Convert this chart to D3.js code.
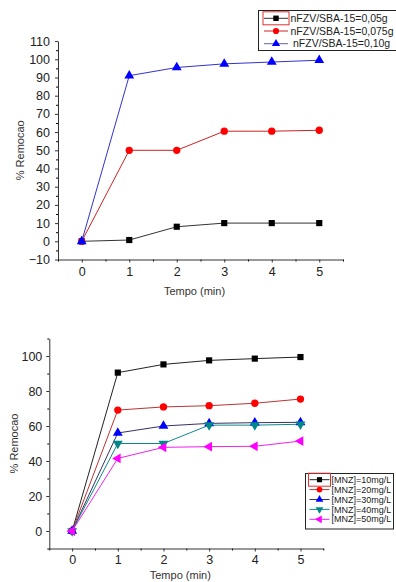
<!DOCTYPE html>
<html>
<head>
<meta charset="utf-8">
<script src="https://cdn.jsdelivr.net/npm/d3@7"></script>
<style>
  body { margin: 0; background: #fff; }
  svg { display: block; font-family: "Liberation Sans", Arial, sans-serif; }
</style>
</head>
<body>
<div id="chart"></div>
<script>
// time points (min)
var tempo = [0, 1, 2, 3, 4, 5];

// chart 1: mass of nFZV/SBA-15
var massLabels = ["nFZV/SBA-15=0,05g", "nFZV/SBA-15=0,075g", "nFZV/SBA-15=0,10g"];
var rem005 = [0, 0.7, 8, 10, 10, 10];
var rem0075 = [0, 50, 50, 60.5, 60.5, 61];
var rem010 = [0, 91, 95.5, 97.5, 98.5, 99.5];

// chart 2: MNZ concentration
var concLabels = ["[MNZ]=10mg/L", "[MNZ]=20mg/L", "[MNZ]=30mg/L", "[MNZ]=40mg/L", "[MNZ]=50mg/L"];
var rem10 = [0, 90.5, 95.2, 97.5, 98.5, 99.4];
var rem20 = [0, 69.1, 70.9, 71.6, 73, 75.4];
var rem30 = [0, 56, 60, 61.5, 61.9, 62.1];
var rem40 = [0, 50, 50, 60.5, 60.5, 61];
var rem50 = [0, 41.5, 47.8, 48.2, 48.4, 51.4];

var xTicks = [0, 1, 2, 3, 4, 5];
var xMinor = [-0.5, 0.5, 1.5, 2.5, 3.5, 4.5, 5.5];
var yTicks1 = [-10, 0, 10, 20, 30, 40, 50, 60, 70, 80, 90, 100, 110];
var yMinor1 = [-5, 5, 15, 25, 35, 45, 55, 65, 75, 85, 95, 105];
var yTicks2 = [0, 20, 40, 60, 80, 100];
var yMinor2 = [-10, 10, 30, 50, 70, 90, 110];

var svg = d3.select("#chart")
  .append("svg")
    .attr("width", 396)
    .attr("height", 582);

var shapes = {
  square: d3.symbolSquare,
  circle: d3.symbolCircle,
  triangle: d3.symbolTriangle
};
function marker(shape, size) {
  return d3.symbol().type(shapes[shape]).size(size)();
}

function drawChart(cfg) {
  var x = d3.scaleLinear().domain([-0.5, 5.5]).range([cfg.left, cfg.right]);
  var y = d3.scaleLinear().domain([-10, 110]).range([cfg.bottom, cfg.top]);
  var g = svg.append("g");

  // minor ticks
  g.append("g")
    .attr("transform", "translate(0," + cfg.bottom + ")")
    .call(d3.axisBottom(x).tickValues(xMinor).tickSize(2).tickFormat(""))
    .call(function (a) { a.select(".domain").remove(); });
  g.append("g")
    .attr("transform", "translate(" + cfg.left + ",0)")
    .call(d3.axisLeft(y).tickValues(cfg.yMinor).tickSize(2).tickFormat(""))
    .call(function (a) { a.select(".domain").remove(); });

  var xa = g.append("g")
    .attr("transform", "translate(0," + cfg.bottom + ")")
    .call(d3.axisBottom(x).tickValues(xTicks).tickFormat(d3.format("d"))
      .tickSize(3).tickSizeOuter(0).tickPadding(cfg.xPad));
  var ya = g.append("g")
    .attr("transform", "translate(" + cfg.left + ",0)")
    .call(d3.axisLeft(y).tickValues(cfg.yTicks).tickFormat(d3.format("d"))
      .tickSize(3).tickSizeOuter(0).tickPadding(cfg.yPad));

  [xa, ya].forEach(function (a) {
    a.selectAll("path, line").attr("stroke", "#333");
    a.selectAll("text")
      .attr("fill", "#222")
      .style("font-size", "12.5px")
      .style("font-family", "Liberation Sans, Arial, sans-serif");
  });

  g.append("text")
    .attr("x", (cfg.left + cfg.right) / 2 - 6)
    .attr("y", cfg.xTitleY)
    .attr("text-anchor", "middle")
    .attr("fill", "#333")
    .style("font-size", "11px")
    .text("Tempo (min)");

  g.append("text")
    .attr("transform", "translate(" + cfg.yTitleX + "," + ((cfg.top + cfg.bottom) / 2) + ") rotate(-90)")
    .attr("text-anchor", "middle")
    .attr("fill", "#333")
    .style("font-size", "11px")
    .text("% Remocao");

  var line = d3.line()
    .x(function (d, i) { return x(tempo[i]); })
    .y(function (d) { return y(d); });

  cfg.series.forEach(function (s) {
    g.append("path")
      .datum(s.values)
      .attr("fill", "none")
      .attr("stroke", s.line)
      .attr("stroke-width", 1)
      .attr("d", line);
  });
  cfg.series.forEach(function (s) {
    g.selectAll(null)
      .data(s.values)
      .enter()
      .append("path")
        .attr("d", marker(s.shape, s.shape === "square" ? 38 : 42))
        .attr("transform", function (d, i) {
          return "translate(" + x(tempo[i]) + "," + y(d) + ") rotate(" + (s.rot || 0) + ")";
        })
        .attr("fill", s.color);
  });

  // legend
  var lg = cfg.legend;
  var leg = g.append("g");
  leg.append("rect")
    .attr("x", lg.x).attr("y", lg.y)
    .attr("width", lg.w).attr("height", lg.h)
    .attr("fill", "#fff")
    .attr("stroke", "#222")
    .attr("stroke-width", 1);
  cfg.series.forEach(function (s, i) {
    var ry = lg.y0 + i * lg.step;
    leg.append("line")
      .attr("x1", lg.lx1).attr("x2", lg.lx2)
      .attr("y1", ry).attr("y2", ry)
      .attr("stroke", s.legLine || s.line)
      .attr("stroke-width", 1);
    leg.append("path")
      .attr("d", marker(s.shape, lg.msize))
      .attr("transform", "translate(" + ((lg.lx1 + lg.lx2) / 2) + "," + ry + ") rotate(" + (s.rot || 0) + ")")
      .attr("fill", s.color);
    leg.append("text")
      .attr("x", lg.tx + (s.tdx || 0))
      .attr("y", ry)
      .attr("dy", "0.35em")
      .attr("fill", "#222")
      .style("font-size", lg.font)
      .text(s.label);
  });
  // selection rectangle around the first legend symbol
  leg.append("rect")
    .attr("x", lg.lx1 - 1).attr("y", lg.y0 - 6.5)
    .attr("width", lg.lx2 - lg.lx1 + 2).attr("height", 13)
    .attr("fill", "none")
    .attr("stroke", "#d33")
    .attr("stroke-width", 1);
}

drawChart({
  left: 58, right: 343, top: 41.1, bottom: 259.5,
  yTicks: yTicks1, yMinor: yMinor1, xPad: 5, yPad: 5,
  xTitleY: 295, yTitleX: 24,
  series: [
    { values: rem005, color: "#000", line: "#333", shape: "square", label: massLabels[0] },
    { values: rem0075, color: "#f00", line: "#c22", shape: "circle", label: massLabels[1] },
    { values: rem010, color: "#00f", line: "#33c", shape: "triangle", label: massLabels[2], tdx: 2.5, legLine: "#669" }
  ],
  legend: { x: 258.5, y: 10.5, w: 140, h: 40, y0: 18.3, step: 12.7,
            lx1: 264, lx2: 288, tx: 290.5, font: "10.5px", msize: 30 }
});

drawChart({
  left: 49.3, right: 323.3, top: 338.5, bottom: 548.5,
  yTicks: yTicks2, yMinor: yMinor2, xPad: 4, yPad: 4,
  xTitleY: 579, yTitleX: 18,
  series: [
    { values: rem10, color: "#000", line: "#222", shape: "square", label: concLabels[0] },
    { values: rem20, color: "#f00", line: "#b33", shape: "circle", label: concLabels[1] },
    { values: rem30, color: "#00f", line: "#336", shape: "triangle", label: concLabels[2] },
    { values: rem40, color: "#088", line: "#188", shape: "triangle", rot: 180, label: concLabels[3] },
    { values: rem50, color: "#f0f", line: "#e2e", shape: "triangle", rot: -90, label: concLabels[4] }
  ],
  legend: { x: 305.5, y: 473.5, w: 88, h: 55.5, y0: 479.7, step: 9.9,
            lx1: 309.5, lx2: 329.5, tx: 331.5, font: "9px", msize: 26 }
});
</script>
</body>
</html>
